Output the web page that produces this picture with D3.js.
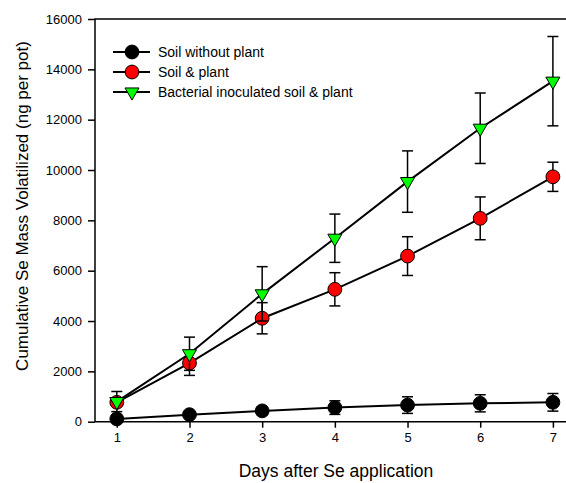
<!DOCTYPE html>
<html>
<head>
<meta charset="utf-8">
<script src="https://cdn.jsdelivr.net/npm/d3@7"></script>
<style>
  body { margin: 0; background: #fff; overflow: hidden; }
  text { font-family: "Liberation Sans", Arial, sans-serif; }
</style>
</head>
<body>
<svg id="chart"></svg>
<script>
const days = [1, 2, 3, 4, 5, 6, 7];

// soil without plant
const soilMean = [110, 280, 430, 560, 660, 730, 770];
const soilErr  = [60, 80, 150, 270, 330, 340, 350];
// soil & plant
const plantMean = [770, 2330, 4110, 5260, 6580, 8080, 9730];
const plantErr  = [150, 490, 620, 660, 770, 850, 580];
// bacterial inoculated soil & plant
const bactMean = [800, 2700, 5080, 7290, 9540, 11660, 13530];
const bactErr  = [400, 660, 1080, 960, 1220, 1400, 1775];

const yTicks = [0, 2000, 4000, 6000, 8000, 10000, 12000, 14000, 16000];

const seriesNames = ["Soil without plant", "Soil & plant", "Bacterial inoculated soil & plant"];

function renderChart() {
    const width = 566;
    const height = 483;
    const left = 95, top = 19, right = 574.7, bottom = 421.7;

    const svg = d3.select('#chart')
        .attr('width', width)
        .attr('height', height);

    const x = d3.scaleLinear().domain([0.7, 7.3]).range([left, right]);
    const y = d3.scaleLinear().domain([0, 16000]).range([bottom, top]);

    const series = [
        { name: seriesNames[0], mean: soilMean, err: soilErr, fill: "#000000", shape: "circle" },
        { name: seriesNames[1], mean: plantMean, err: plantErr, fill: "#ff0000", shape: "circle" },
        { name: seriesNames[2], mean: bactMean, err: bactErr, fill: "#00ff00", shape: "triangle" }
    ];

    // frame (right side falls outside the picture)
    svg.append("path")
        .attr("d", "M" + right + "," + top + "H" + left + "V" + bottom + "H" + right)
        .attr("fill", "none").attr("stroke", "#000").attr("stroke-width", 1.5);

    // axes
    const yAxis = svg.append("g")
        .attr("transform", "translate(" + left + ",0)")
        .call(d3.axisLeft(y).tickValues(yTicks).tickSize(7).tickPadding(6).tickFormat(d3.format("d")));
    const xAxis = svg.append("g")
        .attr("transform", "translate(0," + bottom + ")")
        .call(d3.axisBottom(x).tickValues(days).tickSize(6).tickPadding(5).tickFormat(d3.format("d")));

    [yAxis, xAxis].forEach(function(a) {
        a.select(".domain").remove();
        a.selectAll("line").attr("stroke", "#000").attr("stroke-width", 1.5);
        a.selectAll("text")
            .style("font-size", "13px")
            .style("font-family", "'Liberation Sans', Arial, sans-serif")
            .attr("fill", "#000");
    });

    const line = d3.line()
        .x(function(d, i) { return x(days[i]); })
        .y(function(d) { return y(d); });

    const circ = d3.symbol().type(d3.symbolCircle).size(150);
    const tri = d3.symbol().type(d3.symbolTriangle).size(85);

    series.forEach(function(s) {
        const g = svg.append("g");

        // error bars
        s.mean.forEach(function(m, i) {
            const cx = x(days[i]);
            const y1 = y(m + s.err[i]), y2 = y(m - s.err[i]);
            g.append("line").attr("x1", cx).attr("x2", cx).attr("y1", y1).attr("y2", y2)
                .attr("stroke", "#000").attr("stroke-width", 1.5);
            [y1, y2].forEach(function(yy) {
                g.append("line").attr("x1", cx - 5.5).attr("x2", cx + 5.5).attr("y1", yy).attr("y2", yy)
                    .attr("stroke", "#000").attr("stroke-width", 1.5);
            });
        });

        g.append("path")
            .datum(s.mean)
            .attr("d", line)
            .attr("fill", "none")
            .attr("stroke", "#000")
            .attr("stroke-width", 2);

        g.selectAll(".pt")
            .data(s.mean)
            .enter()
            .append("path")
            .attr("class", "pt")
            .attr("d", s.shape === "circle" ? circ() : tri())
            .attr("transform", function(d, i) {
                return "translate(" + x(days[i]) + "," + y(d) + ")" + (s.shape === "triangle" ? " rotate(180)" : "");
            })
            .attr("fill", s.fill)
            .attr("stroke", "#000")
            .attr("stroke-width", 1);
    });

    // legend
    const legend = svg.append("g").attr("transform", "translate(113,52)");
    series.forEach(function(s, i) {
        const row = legend.append("g").attr("transform", "translate(0," + (i * 20) + ")");
        row.append("line").attr("x1", 0).attr("x2", 37).attr("y1", 0).attr("y2", 0)
            .attr("stroke", "#000").attr("stroke-width", 2);
        row.append("path")
            .attr("d", s.shape === "circle" ? circ() : tri())
            .attr("transform", "translate(19,0)" + (s.shape === "triangle" ? " rotate(180)" : ""))
            .attr("fill", s.fill).attr("stroke", "#000").attr("stroke-width", 1);
        row.append("text")
            .attr("x", 45).attr("y", 0).attr("dy", "0.35em")
            .style("font-size", "14px")
            .text(s.name);
    });

    // axis titles
    svg.append("text")
        .attr("transform", "translate(28,206) rotate(-90)")
        .attr("text-anchor", "middle")
        .style("font-size", "17px")
        .text("Cumulative Se Mass Volatilized (ng per pot)");

    svg.append("text")
        .attr("x", 336).attr("y", 477)
        .attr("text-anchor", "middle")
        .style("font-size", "17.5px")
        .text("Days after Se application");
}

renderChart();
</script>
</body>
</html>
